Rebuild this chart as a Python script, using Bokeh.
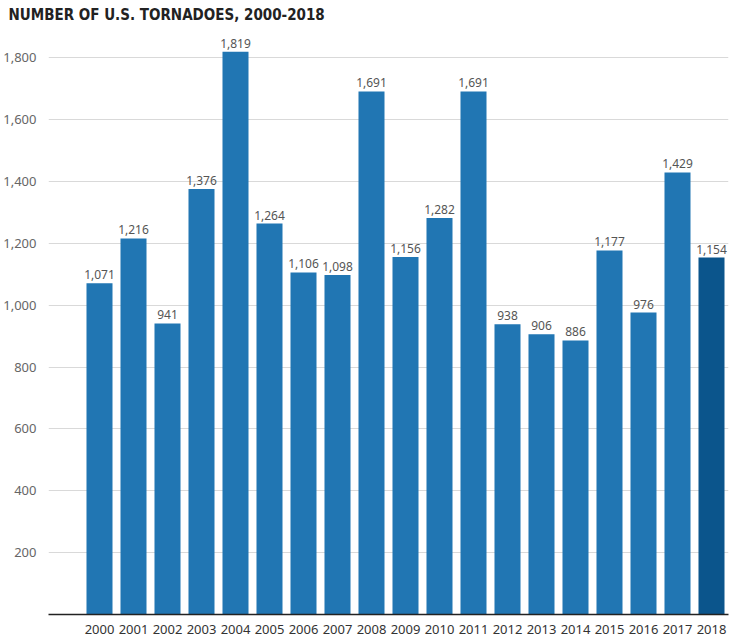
from bokeh.plotting import figure
from bokeh.models import ColumnDataSource, FixedTicker, NumeralTickFormatter, Range1d
from bokeh.core.properties import value
from bokeh.embed import file_html
from bokeh.resources import INLINE

years = list(range(2000, 2019))
tornadoes = [1071, 1216, 941, 1376, 1819, 1264, 1106, 1098, 1691, 1156,
             1282, 1691, 938, 906, 886, 1177, 976, 1429, 1154]
y_ticks = [200, 400, 600, 800, 1000, 1200, 1400, 1600, 1800]
title_text = "NUMBER OF U.S. TORNADOES, 2000-2018"

colors = ["#2176b3"] * (len(years) - 1) + ["#0b558c"]
labels = [f"{v:,}" for v in tornadoes]
src = ColumnDataSource(dict(x=years, top=tornadoes, color=colors, label=labels))

p = figure(width=738, height=641, output_backend="svg", toolbar_location=None,
           x_range=Range1d(1998.5, 2018.5), y_range=Range1d(0, 1901),
           min_border_left=48, min_border_right=10, min_border_bottom=27,
           min_border_top=0)
p.title.text = title_text
p.title.text_font = "'DejaVu Sans Condensed', 'Roboto'"
p.title.text_font_style = "bold"
p.title.text_font_size = "15px"
p.title.text_color = "#222222"
p.title.offset = -40
p.title.standoff = 6
p.outline_line_color = None
p.background_fill_color = "white"
p.border_fill_color = "white"

p.vbar(x="x", top="top", width=0.765, bottom=0, color="color", line_color=None, source=src)
p.text(x="x", y="top", text="label", source=src, text_align="center",
       text_baseline="bottom", y_offset=-4, text_font=value("Noto Sans"),
       text_font_size="12px", text_color="#555555")

p.yaxis.ticker = FixedTicker(ticks=y_ticks)
p.yaxis.formatter = NumeralTickFormatter(format="0,0")
p.yaxis.axis_line_color = None
p.yaxis.major_tick_line_color = None
p.yaxis.minor_tick_line_color = None
p.yaxis.major_label_text_font = "Noto Sans"
p.yaxis.major_label_text_font_size = "13px"
p.yaxis.major_label_text_color = "#666666"
p.yaxis.major_label_standoff = 6

p.xaxis.ticker = FixedTicker(ticks=years)
p.xaxis.axis_line_color = "#222222"
p.xaxis.axis_line_width = 1.5
p.xaxis.major_tick_line_color = None
p.xaxis.minor_tick_line_color = None
p.xaxis.major_label_text_font = "Noto Sans"
p.xaxis.major_label_text_font_size = "13px"
p.xaxis.major_label_text_color = "#333333"
p.xaxis.major_label_standoff = 4

p.xgrid.grid_line_color = None
p.ygrid.grid_line_color = "#d9d9d9"
p.ygrid.ticker = FixedTicker(ticks=y_ticks)

open("out.html", "w").write(file_html(p, INLINE))
